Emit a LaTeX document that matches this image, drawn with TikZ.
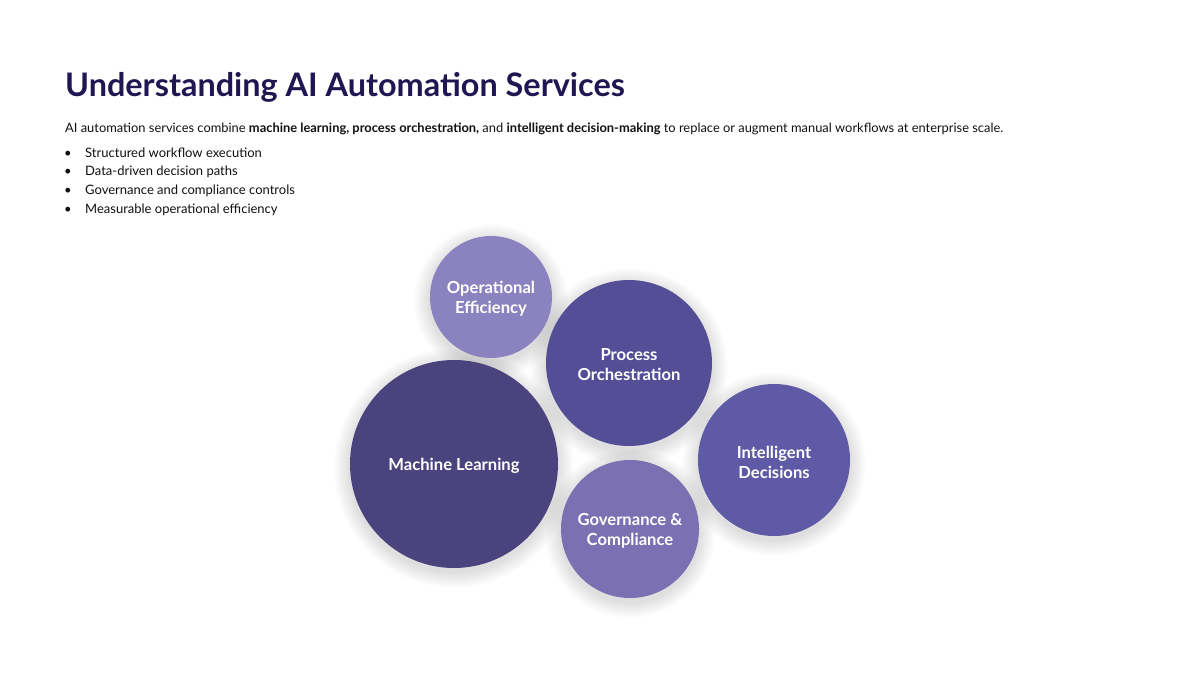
\documentclass[tikz,border=0pt]{standalone}
\usepackage{fontspec}
\setmainfont{Lato}
\definecolor{titlecol}{HTML}{1F1752}
\definecolor{textcol}{HTML}{111111}
\definecolor{cML}{HTML}{4A437D}
\definecolor{cPO}{HTML}{544E96}
\definecolor{cID}{HTML}{5F5AA6}
\definecolor{cGC}{HTML}{7A70B2}
\definecolor{cOE}{HTML}{8B83BF}
\tikzset{
  bubble/.style={circle, inner sep=0pt, draw=none},
  bubbletext/.style={text=white, align=center, inner sep=0pt, yshift=-2pt,
    font=\fontsize{16.6}{20}\selectfont\bfseries},
  bodytext/.style={text=textcol, inner sep=0pt, font=\fontsize{13}{16}\selectfont},
}
\newcommand{\softshadow}[3]{%
  \foreach \k in {1,...,16}{
    \fill[black, opacity=0.009] (#1,#2+4) circle ({#3+17-\k});
  }}
\begin{document}
\begin{tikzpicture}[x=1pt,y=-1pt]
\useasboundingbox (0,0) rectangle (1200,675);
\fill[white] (0,0) rectangle (1200,675);
\node[anchor=base west, inner sep=0pt, text=titlecol, font=\fontsize{32.4}{38}\selectfont\bfseries] (title) at (65,96) {Understanding AI Automation Services};
\node[bodytext, anchor=base west, font=\fontsize{12.88}{16}\selectfont] (intro) at (65,132) {AI automation services combine \textbf{machine learning, process orchestration,} and \textbf{intelligent decision-making} to replace or augment manual workflows at enterprise scale.};
\node[bodytext, anchor=base west] (b1d) at (64,157) {\textbullet};
\node[bodytext, anchor=base west] (b1) at (85,157) {Structured workflow execution};
\node[bodytext, anchor=base west] (b2d) at (64,175) {\textbullet};
\node[bodytext, anchor=base west] (b2) at (85,175) {Data-driven decision paths};
\node[bodytext, anchor=base west] (b3d) at (64,194) {\textbullet};
\node[bodytext, anchor=base west] (b3) at (85,194) {Governance and compliance controls};
\node[bodytext, anchor=base west] (b4d) at (64,213) {\textbullet};
\node[bodytext, anchor=base west] (b4) at (85,213) {Measurable operational efficiency};

% soft shadows behind all bubbles
\softshadow{491}{297}{61}
\softshadow{629}{363}{83}
\softshadow{454}{464}{104}
\softshadow{774}{460}{76}
\softshadow{630}{529}{69}

\node[bubble, fill=cOE, minimum size=122pt] (oe) at (491,297) {};
\node[bubble, fill=cPO, minimum size=166pt] (po) at (629,363) {};
\node[bubble, fill=cML, minimum size=208pt] (ml) at (454,464) {};
\node[bubble, fill=cID, minimum size=152pt] (id) at (774,460) {};
\node[bubble, fill=cGC, minimum size=138pt] (gc) at (630,529) {};

\node[bubbletext] (oet) at (oe.center) {Operational\\Efficiency};
\node[bubbletext] (pot) at (po.center) {Process\\Orchestration};
\node[bubbletext] (mlt) at (ml.center) {Machine Learning};
\node[bubbletext] (idt) at (id.center) {Intelligent\\Decisions};
\node[bubbletext] (gct) at (gc.center) {Governance \&\\Compliance};
\end{tikzpicture}
\end{document}
